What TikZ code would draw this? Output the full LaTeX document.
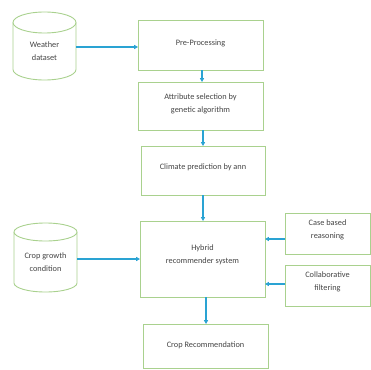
\documentclass[tikz,border=0pt]{standalone}
\usepackage{fontspec}
\setmainfont{Carlito}
\usetikzlibrary{arrows.meta}
\definecolor{boxgreen}{HTML}{A9D18E}
\definecolor{arrblue}{HTML}{2AA3D3}
\definecolor{txtgray}{HTML}{454545}
\begin{document}
\begin{tikzpicture}[x=1pt,y=-1pt,
  box/.style={draw=boxgreen,line width=0.9pt,fill=white},
  lbl/.style={text=txtgray,font=\fontsize{8.3}{13}\selectfont,align=center,inner sep=0pt},
  arr/.style={draw=arrblue,line width=1.1pt,-{Triangle[length=3.8pt,width=4pt]}},
  cyl/.style={draw=boxgreen,line width=0.9pt,fill=white}]
\useasboundingbox (0,0) rectangle (371,369);
% boxes
\draw[box] (138,20) rectangle (263,70);
\node[lbl] (pre) at (200.5,43) {Pre-Processing};
\coordinate (preS) at (202,70);
\draw[box] (138,82) rectangle (263,130);
\node[lbl] (attr) at (200.5,104) {Attribute selection by\\genetic algorithm};
\coordinate (attrN) at (202,82);
\coordinate (attrS) at (203,130);
\draw[box] (141,146) rectangle (265,195);
\node[lbl] (clim) at (203,167) {Climate prediction by ann};
\coordinate (climN) at (203,146);
\coordinate (climS) at (203,195);
\draw[box] (140,221) rectangle (265,297);
\node[lbl] (hyb) at (202.5,254.5) {Hybrid\\recommender system};
\coordinate (hybN) at (203,221);
\coordinate (hybS) at (206,297);
\coordinate (hybE1) at (265,239);
\coordinate (hybE2) at (265,284);
\coordinate (hybW) at (140,259);
\draw[box] (143,324) rectangle (268,368.5);
\node[lbl] (rec) at (205.5,345) {Crop Recommendation};
\coordinate (recN) at (206,324);
\draw[box] (285,213) rectangle (370,254);
\node[lbl] (cbr) at (327.5,230) {Case based\\reasoning};
\coordinate (cbrW) at (285,239);
\draw[box] (285,265) rectangle (370,306);
\node[lbl] (cf) at (327.5,282) {Collaborative\\filtering};
\coordinate (cfW) at (285,284);
% cylinders
\draw[cyl] (13,22.5) -- (13,69.5) arc[start angle=180,end angle=0,x radius=31.5,y radius=10.5] -- (76,22.5);
\draw[cyl] (44.5,22.5) ellipse[x radius=31.5,y radius=10.5];
\node[lbl] (wd) at (44.5,51) {Weather\\dataset};
\coordinate (wdE) at (76,47);
\draw[cyl] (14,232) -- (14,283) arc[start angle=180,end angle=0,x radius=31.5,y radius=9] -- (77,232);
\draw[cyl] (45.5,232) ellipse[x radius=31.5,y radius=9];
\node[lbl] (cg) at (45.5,262.5) {Crop growth\\condition};
\coordinate (cgE) at (77,259);
% arrows
\draw[arr] (wdE) -- (138,47);
\draw[arr] (preS) -- (attrN);
\draw[arr] (attrS) -- (climN);
\draw[arr] (climS) -- (hybN);
\draw[arr] (cgE) -- (hybW);
\draw[arr] (cbrW) -- (hybE1);
\draw[arr] (cfW) -- (hybE2);
\draw[arr] (hybS) -- (recN);
\end{tikzpicture}
\end{document}
